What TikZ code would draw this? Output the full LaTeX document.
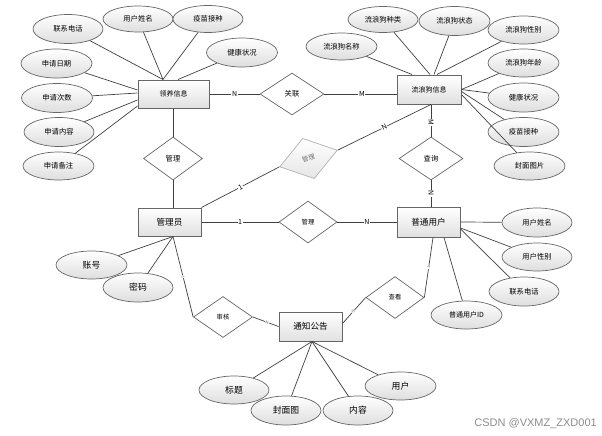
\documentclass[tikz,border=0pt]{standalone}
\usepackage{fontspec}
\newfontfamily\cjk{Noto Sans CJK SC}
\newfontfamily\wmfont{Liberation Sans}
\usetikzlibrary{shapes.geometric,shadows,calc}

\tikzset{
  attr/.style={ellipse, draw=black!60, line width=0.7pt, top color=white, bottom color=black!13,
    minimum width=70pt, minimum height=28pt, inner sep=0pt, font=\cjk\fontsize{7.3}{8}\selectfont},
  attrbig/.style={attr, font=\cjk\fontsize{8.8}{10}\selectfont},
  ent/.style={rectangle, draw=black!60, line width=1pt, top color=white, bottom color=black!12,
    minimum width=63pt, minimum height=29pt, inner sep=0pt, font=\cjk\fontsize{7}{8}\selectfont,
    drop shadow={shadow xshift=0.8pt, shadow yshift=-0.8pt, fill=black!25}},
  entbig/.style={ent, font=\cjk\fontsize{8.6}{10}\selectfont},
  rel/.style={diamond, draw=black!60, line width=0.7pt, fill=white,
    minimum width=59pt, minimum height=42pt, inner sep=0pt, font=\cjk\fontsize{7.3}{8}\selectfont},
  relsmall/.style={rel, font=\cjk\fontsize{6.3}{7}\selectfont},
  conn/.style={draw=black!75, line width=0.7pt},
  card/.style={fill=white, inner sep=0.6pt, font=\cjk\fontsize{7}{8}\selectfont},
  cardtiny/.style={fill=white, inner sep=0.3pt, text=black!60, font=\cjk\fontsize{4}{5}\selectfont},
}

\begin{document}
\begin{tikzpicture}[x=1pt,y=-1pt]
\useasboundingbox (0,0) rectangle (602,436);

% entities
\node[ent, minimum width=71pt, minimum height=28pt] (ly) at (173.5,94) {领养信息};
\node[ent, minimum width=64pt] (dog) at (429,89.5) {流浪狗信息};
\node[entbig, minimum height=28pt] (gly) at (169.5,222) {管理员};
\node[entbig, minimum height=30pt] (pt) at (428.5,222) {普通用户};
\node[entbig] (tz) at (310.5,326.5) {通知公告};

% relations
\node[rel, minimum width=64pt] (gl) at (292,94) {关联};
\node[rel, minimum height=43pt] (gm1) at (173,158.5) {管理};
\node[rel, minimum width=64pt, minimum height=43pt] (cx) at (431,158.5) {查询};
\node[relsmall, minimum width=58pt] (gm2) at (308,222) {管理};
\node[relsmall, minimum height=41pt] (sh) at (223,317) {审核};
\node[relsmall, minimum width=58pt] (ck) at (395,297.5) {查看};
\node[rel, rotate=16, draw=black!30, top color=white, bottom color=black!10, text=black!55,
      minimum width=60pt, minimum height=42pt, font=\cjk\fontsize{6.5}{7}\selectfont] (gm3) at (308.5,158.5) {管理};

% attributes of 领养信息
\node[attr, minimum height=29pt] (a1) at (68,29) {联系电话};
\node[attr, minimum height=26pt] (a2) at (138,19) {用户姓名};
\node[attr, minimum height=27pt] (a3) at (208,19) {疫苗接种};
\node[attr, minimum width=71pt, minimum height=29pt] (a4) at (242,52.5) {健康状况};
\node[attr, minimum width=71pt, minimum height=29pt] (a5) at (56.5,63.5) {申请日期};
\node[attr, minimum width=71pt, minimum height=29pt] (a6) at (57,98) {申请次数};
\node[attr, minimum height=29pt] (a7) at (59,132) {申请内容};
\node[attr, minimum width=71pt] (a8) at (58.5,166) {申请备注};

% attributes of 流浪狗信息
\node[attr, minimum width=71pt, minimum height=27pt] (b1) at (341.5,46.5) {流浪狗名称};
\node[attr, minimum height=26pt] (b2) at (383,19.5) {流浪狗种类};
\node[attr, minimum width=71pt, minimum height=29pt] (b3) at (454.5,21) {流浪狗状态};
\node[attr, minimum width=71pt] (b4) at (523.5,30) {流浪狗性别};
\node[attr, minimum width=71pt] (b5) at (523.5,63) {流浪狗年龄};
\node[attr, minimum width=71pt, minimum height=29pt] (b6) at (523.5,97.5) {健康状况};
\node[attr, minimum width=71pt, minimum height=29pt] (b7) at (523.5,132) {疫苗接种};
\node[attr, minimum width=71pt] (b8) at (529.5,166) {封面图片};

% attributes of 管理员
\node[attrbig, minimum width=71pt] (c1) at (91.5,265) {账号};
\node[attrbig, minimum height=29pt] (c2) at (138,287.5) {密码};

% attributes of 普通用户
\node[attr, minimum height=29pt] (d1) at (537,222.5) {用户姓名};
\node[attr] (d2) at (537,257) {用户性别};
\node[attr, minimum height=29pt] (d3) at (524,291.5) {联系电话};
\node[attr, minimum width=71pt, font=\cjk\fontsize{7}{8}\selectfont] (d4) at (466.5,315) {普通用户ID};

% attributes of 通知公告
\node[attrbig] (e1) at (234,390) {标题};
\node[attrbig, minimum height=29pt] (e2) at (286,410.5) {封面图};
\node[attrbig, minimum height=29pt] (e3) at (358,410.5) {内容};
\node[attrbig, minimum width=71pt] (e4) at (400.5,386) {用户};

% attachment points
\coordinate (lyT) at ($(ly.north)+(-10.5,0)$);
\coordinate (lyT2) at ($(ly.north)+(4.5,0)$);
\coordinate (dogT) at ($(dog.north)+(1,0)$);
\coordinate (glyB) at ($(gly.south)+(3.5,0)$);
\coordinate (ptB) at ($(pt.south)+(4.5,0)$);
\coordinate (tzB) at ($(tz.south)+(1.5,0)$);

% attribute lines
\begin{scope}[conn]
\draw (a1) -- (lyT);
\draw (a2) -- (lyT);
\draw (a3) -- (lyT);
\draw (a4) -- (lyT2);
\draw (a5) -- ($(ly.west)+(0,-4)$);
\draw (a6) -- ($(ly.west)+(0,-1)$);
\draw (a7) -- ($(ly.west)+(0,6)$);
\draw (a8) -- ($(ly.west)+(0,12)$);
\draw (b1) -- ($(dog.north)+(-17,0)$);
\draw (b2) -- (dogT);
\draw (b3) -- ($(dog.north)+(5,0)$);
\draw (b4) -- ($(dog.north)+(8,0)$);
\draw (b5) -- (dog.east);
\draw (b6) -- (dog.east);
\draw (b7) -- ($(dog.east)+(0,2)$);
\draw (b8) -- ($(dog.east)+(0,5)$);
\draw (c1) -- (glyB);
\draw (c2) -- (glyB);
\draw (d1) -- (pt.east);
\draw (d2) -- ($(pt.east)+(0,6)$);
\draw (d3) -- ($(pt.east)+(0,7)$);
\draw (d4) -- ($(pt.south)+(15.5,0)$);
\draw (e1) -- (tzB);
\draw (e2) -- (tzB);
\draw (e3) -- (tzB);
\draw (e4) -- (tzB);

% relationship lines
\draw (ly.east) -- node[card]{N} (gl.west);
\draw (gl.east) -- node[card, pos=0.52]{M} (gl.east -| dog.west);
\draw (gm1.north |- ly.south) -- (gm1.north);
\draw (gm1.south) -- (gm1.south |- gly.north);
\draw (gly.north east) -- node[card, sloped]{1} (gm3.west);
\draw (gm3.east) -- node[card, sloped]{N} ($(dog.south)+(2,0)$);
\draw (cx.north |- dog.south) -- node[card, rotate=-90, pos=0.55]{M} (cx.north);
\draw (cx.south) -- node[card, rotate=90, pos=0.5]{N} (cx.south |- pt.north);
\draw (gly.east) -- node[card]{1} (gm2.west);
\draw (gm2.east) -- node[card]{N} (pt.west);
\draw (glyB) -- node[cardtiny, sloped]{1} (sh.west);
\draw (sh.east) -- node[cardtiny, sloped, pos=0.55]{N} (tz.west);
\draw (ptB) -- node[cardtiny, sloped, pos=0.5]{1} (ck.east);
\draw (ck.west) -- node[cardtiny, sloped, pos=0.54]{N} ($(tz.east)+(0,-3)$);
\end{scope}

% watermark
\node[font=\wmfont\fontsize{11}{12}\selectfont, text=black!45, anchor=east, inner sep=0pt] (wm) at (597,424) {CSDN @VXMZ\_ZXD001};
\end{tikzpicture}
\end{document}
